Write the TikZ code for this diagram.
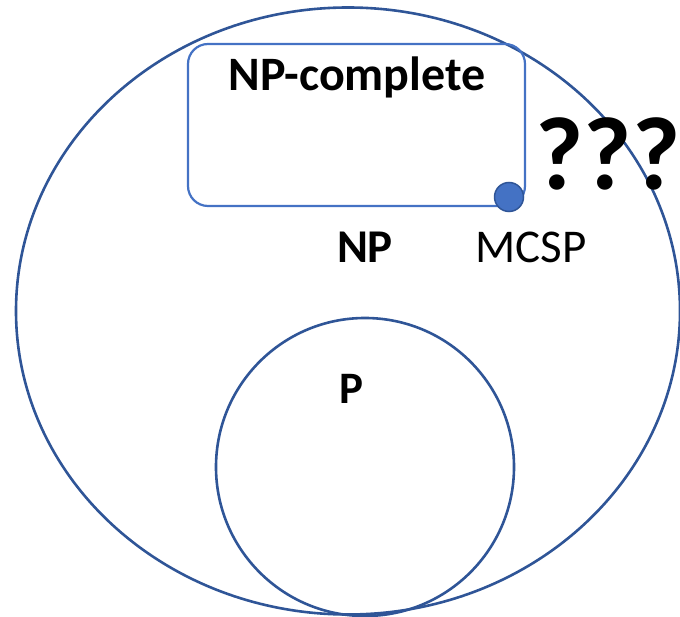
\documentclass[tikz,border=0pt]{standalone}
\usepackage{fontspec}
\setmainfont{Carlito}
\definecolor{darkline}{HTML}{2F5597}
\definecolor{midblue}{HTML}{4472C4}
\tikzset{
  setline/.style={draw=darkline, line width=2.6pt},
  boxline/.style={draw=midblue, line width=2.2pt, rounded corners=20pt},
  lbl/.style={anchor=base, inner sep=0pt, text=black},
}
\begin{document}
\begin{tikzpicture}[x=1pt,y=-1pt]
\useasboundingbox (0,0) rectangle (680,617);
\draw[setline] (348,311) ellipse [x radius=332, y radius=303.5];
\draw[setline] (365,467) circle [radius=149];
\draw[boxline] (188,44) rectangle (525,206);
\node[circle, fill=midblue, draw=darkline, line width=1.5pt, minimum size=29pt, inner sep=0pt] (mcspdot) at (509,197) {};
\node[lbl, font=\bfseries\fontsize{48}{56}\selectfont] (npc) at (357,91) {NP-complete};
\node[lbl, font=\bfseries\fontsize{104}{116}\selectfont] (qqq) at (608,190) {???};
\node[lbl, font=\bfseries\fontsize{47}{56}\selectfont] (np) at (365,263) {NP};
\node[lbl, font=\fontsize{47}{56}\selectfont] (mcsp) at (531,263) {MCSP};
\node[lbl, font=\bfseries\fontsize{45}{54}\selectfont] (p) at (351,403) {P};
\end{tikzpicture}
\end{document}
